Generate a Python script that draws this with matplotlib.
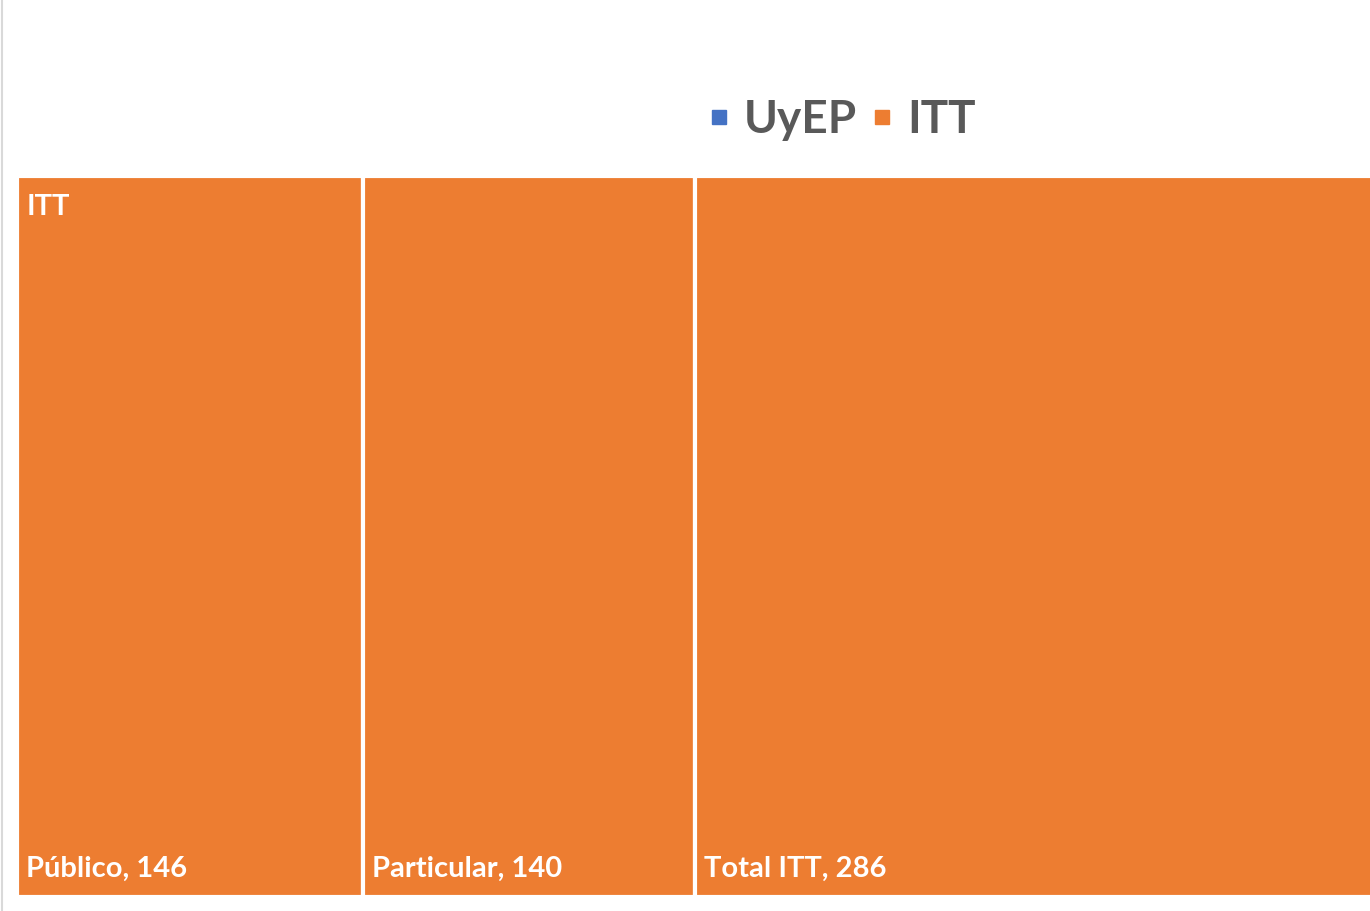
import numpy as np
import matplotlib.pyplot as plt
from matplotlib.lines import Line2D

# treemap data
parent = "ITT"
categories = ["Público", "Particular", "Total ITT"]
values = [146, 140, 286]
series = ["UyEP", "ITT"]
series_colors = ["#4472C4", "#ED7D31"]

plt.rcParams['font.family'] = ['Lato', 'DejaVu Sans']

fig = plt.figure(figsize=(13.7, 9.11), dpi=100)
ax = fig.add_axes([16.5 / 1370, 14 / 911, 1356 / 1370, 721 / 911])

vals = np.array(values, dtype=float)
lefts = np.concatenate([[0], np.cumsum(vals)[:-1]])
ax.bar(lefts, 1, width=vals, align='edge', color=series_colors[1],
       edgecolor='white', linewidth=3)

for l, c, v in zip(lefts, categories, values):
    ax.annotate(f"{c}, {v}", (l, 0), xytext=(7, 11), textcoords='offset points',
                color='white', fontsize=21, fontweight='bold',
                ha='left', va='bottom')
ax.annotate(parent, (0, 1), xytext=(7, -13), textcoords='offset points',
            color='white', fontsize=21, fontweight='bold', ha='left', va='top')

ax.set_xlim(0, vals.sum())
ax.set_ylim(0, 1)
ax.axis('off')

handles = [Line2D([], [], marker='s', linestyle='none', color=c, markersize=10)
           for c in series_colors]
leg = fig.legend(handles, series, loc='center', bbox_to_anchor=(0.6135, 0.868),
                 ncol=2, frameon=False, handletextpad=0.25, columnspacing=0.25,
                 handlelength=0.6, prop={'family': ['Lato', 'DejaVu Sans'],
                                         'size': 33, 'weight': 'bold'})
for t in leg.get_texts():
    t.set_color('#595959')

fig.add_artist(Line2D([2 / 1370, 2 / 1370], [0, 1], color='#D9D9D9', linewidth=1.5,
                      transform=fig.transFigure))

fig.savefig('out.png', dpi=100)
